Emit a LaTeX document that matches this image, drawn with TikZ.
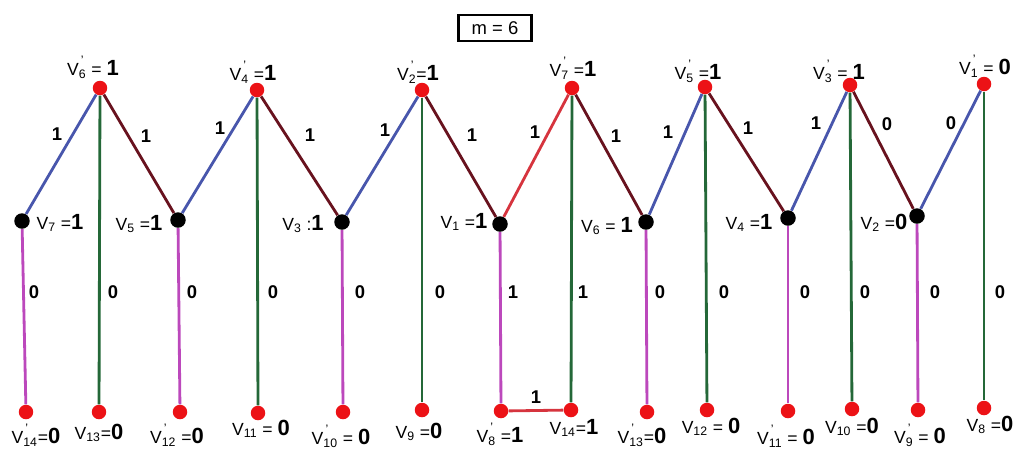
\documentclass[tikz,border=0pt]{standalone}
\usepackage{fontspec}
\setmainfont{Liberation Sans}
\usetikzlibrary{positioning}
\definecolor{edgeBlue}{RGB}{72,86,172}
\definecolor{edgeMaroon}{RGB}{104,18,30}
\definecolor{edgeGreen}{RGB}{36,104,56}
\definecolor{edgeMagenta}{RGB}{188,72,188}
\definecolor{edgeRed}{RGB}{214,52,62}
\definecolor{dotRed}{RGB}{236,18,22}
\newcommand{\Vn}[1]{V\textsubscript{#1}}
\newcommand{\Vp}[1]{V\rlap{\raisebox{1.25ex}{\scriptsize\,'}}\textsubscript{#1}}
\newcommand{\val}[1]{{\fontsize{12.5}{14}\bfseries #1}}
\tikzset{
  redDot/.style={circle,fill=dotRed,inner sep=0pt,minimum size=0.29cm},
  blackDot/.style={circle,fill=black,inner sep=0pt,minimum size=0.31cm},
  vLab/.style={inner sep=0pt,font=\fontsize{10}{12}\selectfont},
  wLab/.style={inner sep=0pt,text=black,font=\fontsize{10.5}{12}\bfseries},
  arm/.style={line width=1.6pt}
}

\begin{document}
\begin{tikzpicture}[x=0.02cm,y=-0.02cm]
\useasboundingbox (0,0) rectangle (1018,451);
% vertices
\foreach \n/\x/\y in {1/100/88,2/257/90,3/422/90,4/572/88,5/705/87,6/850/85,7/984/84}
  \node[redDot] (t\n) at (\x,\y) {};
\foreach \n/\x/\y in {1/22/221,2/178/220,3/342/222,4/500/224,5/646/222,6/788/218,7/917/216}
  \node[blackDot] (m\n) at (\x,\y) {};
\foreach \n/\x/\y in {1/26/412,2/99/412,3/180/412,4/258/413,5/343/412,6/422/410,7/501/411,
  8/571/410,9/647/412,10/707/410,11/788/411,12/852/409,13/918/410,14/984/408}
  \node[redDot] (b\n) at (\x,\y) {};
% verticals
\foreach \i/\j in {1/2,2/4,3/6,4/8,5/10,6/12,7/14}
  \draw[arm,edgeGreen] (t\i) -- (b\j);
\foreach \i/\j in {1/1,2/3,3/5,4/7,5/9,6/11,7/13}
  \draw[arm,edgeMagenta] (m\i) -- (b\j);
% zigzag
\foreach \i in {1,...,7}{
  \ifnum\i=4
    \draw[arm,edgeRed] (m\i) -- (t\i);
  \else
    \draw[arm,edgeBlue] (m\i) -- (t\i);
  \fi}
\foreach \i [evaluate=\i as \k using int(\i+1)] in {1,...,6}
  \draw[arm,edgeMaroon] (t\i) -- (m\k);
\draw[arm,edgeRed] (b7) -- node[wLab,above=3pt] (w15) {1} (b8);
% edge weights
\foreach \n/\x/\y/\w in {1/57/134/1,2/146/136/1,3/220/128/1,4/310/135/1,5/385/130/1,
  6/472/135/1,7/535/132/1,8/616/136/1,9/668/132/1,10/748/128/1,11/816/123/1,
  12/887/124/0,13/951/123/0}
  \node[wLab] (z\n) at (\x,\y) {\w};
\foreach \n/\x/\w in {1/34/0,2/113/0,3/192/0,4/273/0,5/360/0,6/440/0,7/513/1,
  8/583/1,9/660/0,10/724/0,11/805/0,12/865/0,13/935/0,14/1000/0}
  \node[wLab] (y\n) at (\x,292) {\w};
% vertex labels
\foreach \n/\x/\y/\t in {1/93/67/{\Vp{6} = \val{1}},2/253/72/{\Vp{4} =\val{1}},
  3/418/72/{\Vp{2}=\val{1}},4/573/68/{\Vp{7} =\val{1}},5/698/71/{\Vp{5} =\val{1}},
  6/839/71/{\Vp{3} = \val{1}},7/985/66/{\Vp{1} = \val{0}}}
  \node[vLab] (lt\n) at (\x,\y) {\t};
\foreach \n/\x/\y/\t in {1/60/223/{\Vn{7} =\val{1}},2/139/224/{\Vn{5} =\val{1}},
  3/303/224/{\Vn{3} :\val{1}},4/464/222/{\Vn{1} =\val{1}},5/607/226/{\Vn{6} = \val{1}},
  6/749/223/{\Vn{4} =\val{1}},7/884/223/{\Vn{2} =\val{0}}}
  \node[vLab] (lm\n) at (\x,\y) {\t};
\foreach \n/\x/\y/\t in {1/36/435/{\Vp{14}=\val{0}},2/99/433/{\Vn{13}=\val{0}},
  3/177/435/{\Vp{12} =\val{0}},4/261/429/{\Vn{11} = \val{0}},5/341/436/{\Vp{10} = \val{0}},
  6/419/432/{\Vn{9} =\val{0}},7/500/434/{\Vp{8} =\val{1}},8/574/428/{\Vn{14}=\val{1}},
  9/642/435/{\Vp{13}=\val{0}},10/711/427/{\Vn{12} = \val{0}},11/786/436/{\Vp{11} = \val{0}},
  12/852/427/{\Vn{10} =\val{0}},13/920/435/{\Vp{9} = \val{0}},14/990/425/{\Vn{8} =\val{0}}}
  \node[vLab] (lb\n) at (\x,\y) {\t};
% parameter box
\node[draw,line width=1.4pt,minimum width=1.46cm,minimum height=0.52cm,
  font=\fontsize{10.5}{12}\selectfont] (mbox) at (495,28) {m = 6};
\end{tikzpicture}
\end{document}
